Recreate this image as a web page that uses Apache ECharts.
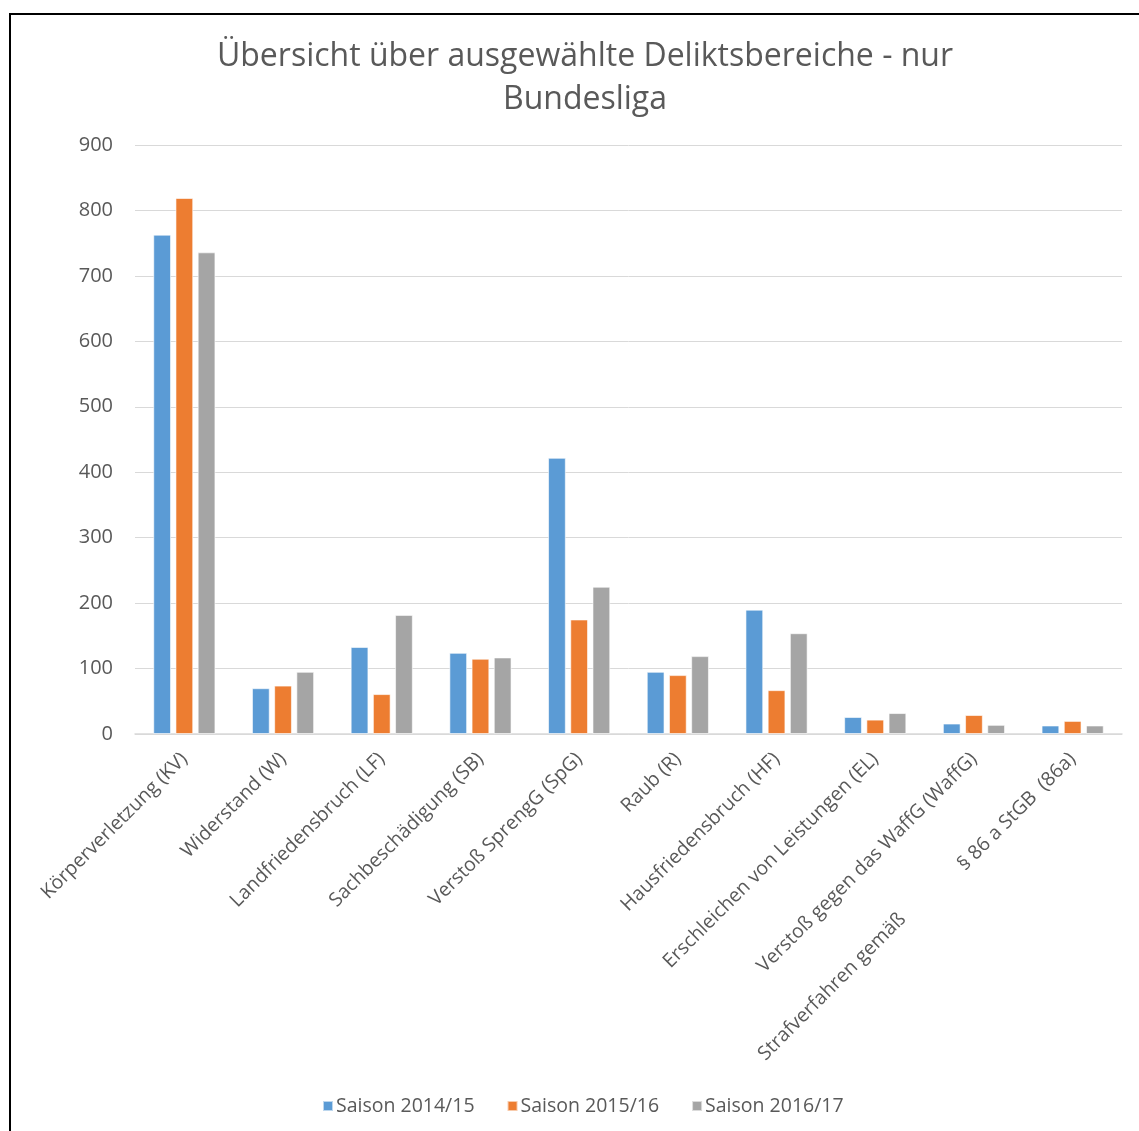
<!DOCTYPE html>
<html>
<head>
<meta charset="utf-8">
<script src="https://cdn.jsdelivr.net/npm/echarts@6/dist/echarts.min.js"></script>
<style>
  html, body { margin: 0; padding: 0; background: #fff; }
  #chart { width: 1139px; height: 1131px; }
</style>
</head>
<body>
<div id="chart"></div>
<script>
const categories = [
  'Körperverletzung (KV)',
  'Widerstand (W)',
  'Landfriedensbruch (LF)',
  'Sachbeschädigung (SB)',
  'Verstoß SprengG (SpG)',
  'Raub (R)',
  'Hausfriedensbruch (HF)',
  'Erschleichen von Leistungen (EL)',
  'Verstoß gegen das WaffG (WaffG)',
  'Strafverfahren gemäß § 86 a StGB  (86a)'
]
const season1415 = [763, 70, 133, 124, 422, 95, 190, 26, 16, 13]
const season1516 = [819, 74, 61, 115, 175, 90, 67, 22, 29, 20]
const season1617 = [736, 95, 182, 117, 225, 119, 154, 32, 14, 13]
const seriesNames = ['Saison 2014/15', 'Saison 2015/16', 'Saison 2016/17']
const colors = ['#5B9BD5', '#ED7D31', '#A5A5A5']

const chart = echarts.init(document.getElementById('chart'))

const barSeries = (name, data, color) => ({
  name,
  type: 'bar',
  data,
  barWidth: '18%',
  barGap: '25%',
  itemStyle: { color, borderColor: 'rgba(255,255,255,0.6)', borderWidth: 1 }
})

const option = {
  animation: false,
  textStyle: { fontFamily: 'Open Sans' },
  color: colors,
  title: {
    text: 'Übersicht über ausgewählte Deliktsbereiche - nur\nBundesliga',
    left: 580,
    top: 30,
    textAlign: 'center',
    textStyle: {
      fontFamily: 'Open Sans',
      fontSize: 32,
      fontWeight: 'normal',
      color: '#595959',
      lineHeight: 43
    }
  },
  legend: {
    data: seriesNames,
    bottom: 10,
    left: 317,
    itemWidth: 10,
    itemHeight: 10,
    itemGap: 32,
    icon: 'rect',
    textStyle: { fontSize: 19.5, color: '#595959', padding: [0, 0, 0, -2] }
  },
  grid: {
    left: 135,
    right: 17,
    top: 145,
    bottom: 397,
    containLabel: false
  },
  xAxis: {
    type: 'category',
    data: categories,
    axisLine: { lineStyle: { color: '#D9D9D9', width: 1.5 } },
    axisTick: { show: false },
    axisLabel: {
      rotate: 45,
      interval: 0,
      fontSize: 19.5,
      color: '#595959',
      margin: 22,
      formatter: (v) => {
        if (v.indexOf('Strafverfahren') === 0) {
          return '{a|Strafverfahren gemäß}{b|§ 86 a StGB  (86a)}'
        }
        return v
      },
      rich: {
        a: { fontSize: 19.5, color: '#595959', padding: [0, 76, 14, 0] },
        b: { fontSize: 19.5, color: '#595959' }
      }
    }
  },
  yAxis: {
    type: 'value',
    min: 0,
    max: 900,
    interval: 100,
    axisLine: { show: false },
    axisTick: { show: false },
    axisLabel: { fontSize: 20, color: '#595959', margin: 22 },
    splitLine: { lineStyle: { color: '#D9D9D9', width: 1 } }
  },
  graphic: [
    { type: 'line', shape: { x1: 9, y1: 14, x2: 1139, y2: 14 }, style: { stroke: '#000', lineWidth: 2 } },
    { type: 'line', shape: { x1: 10, y1: 14, x2: 10, y2: 1131 }, style: { stroke: '#000', lineWidth: 2 } }
  ],
  series: [
    barSeries(seriesNames[0], season1415, colors[0]),
    barSeries(seriesNames[1], season1516, colors[1]),
    barSeries(seriesNames[2], season1617, colors[2])
  ]
}

chart.setOption(option)
</script>
</body>
</html>
